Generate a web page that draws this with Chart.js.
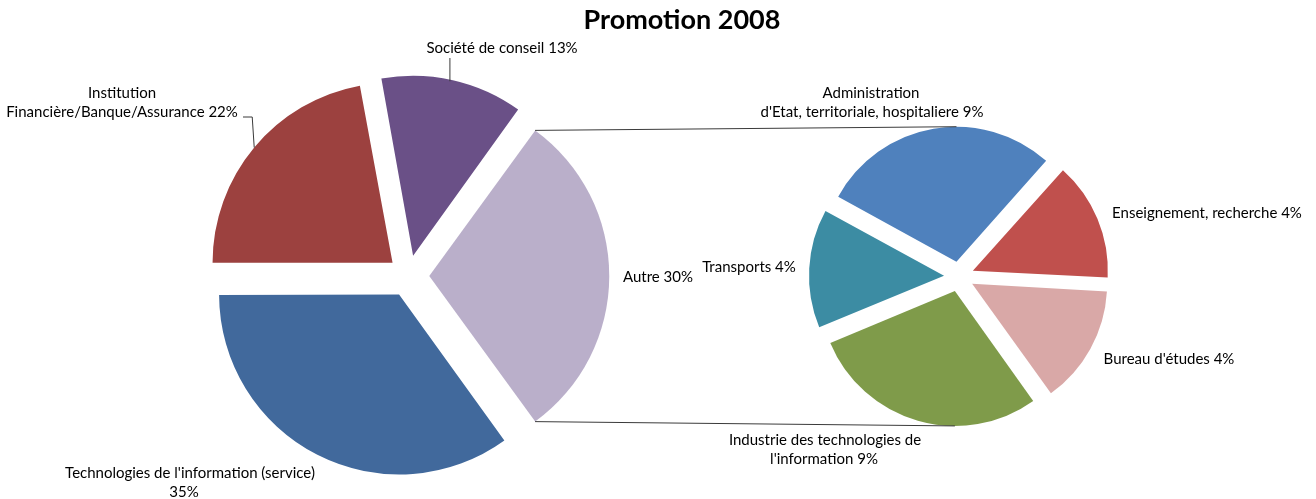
<!DOCTYPE html>
<html>
<head>
<meta charset="utf-8">
<script src="https://cdn.jsdelivr.net/npm/chart.js@4.4.1/dist/chart.umd.min.js"></script>
<style>
  body { margin: 0; background: #fff; }
  #wrap { position: relative; width: 1316px; height: 499px; }
  #wrap canvas { position: absolute; left: 0; top: 0; }
</style>
</head>
<body>
<div id="wrap">
  <canvas id="mainPie" width="1316" height="499"></canvas>
  <canvas id="subPie" width="1316" height="499"></canvas>
</div>
<script>
const title = "Promotion 2008";

// main pie (% of the whole promotion)
const mainCats = ["Technologies de l'information (service)\n", "Institution\nFinancière/Banque/Assurance", "Société de conseil", "Autre"];
const mainVals = [35, 22.1, 12.9, 30];
const mainColors = ["#41699c", "#9c413f", "#6a5087", "#baafca"];

// second pie = detail of "Autre"
const subCats = ["Administration\nd'Etat, territoriale, hospitaliere", "Enseignement, recherche", "Bureau d'études", "Industrie des technologies de\nl'information", "Transports"];
const subVals = [8.6, 4.3, 4.3, 8.6, 4.3];
const subColors = ["#4f81bd", "#c0504d", "#d9a8a7", "#7f9b4a", "#3c8ca3"];

// where the labels sit (x per line, y of first line)
const mainLabelPos = [
  { x: [190, 184], y: 473 },
  { x: [122, 122], y: 93, leader: p => [[243, 117], [p.x - 2, 117], [p.x, p.y]] },
  { x: [502], y: 48, leader: p => [[p.x - 3, 58], [p.x - 3, p.y + 1]] },
  { x: [658], y: 277 }
];
const subLabelPos = [
  { x: [871, 872], y: 93 },
  { x: [1207], y: 213 },
  { x: [1169], y: 359 },
  { x: [825, 824], y: 440 },
  { x: [749], y: 267 }
];

const FONT = "15px Lato";
const LINE_H = 19;
const INK = "#000";
const LINE_COL = "#3a3a3a";

function labelText(name, v) {
  const pct = Math.round(v) + "%";
  return ((name.endsWith("\n") ? name : name + " ") + pct).split("\n");
}

// Chart.js grows exploded arcs a little; keep the radius Excel uses
function radiusFix(arc) {
  const off = (arc.options.offset || 0) / 4;
  return off * (1 - Math.sin(Math.min(Math.PI, arc.circumference)));
}

const keepRadius = {
  id: "keepRadius",
  afterDatasetsUpdate(chart) {
    chart.getDatasetMeta(0).data.forEach(arc => {
      arc.outerRadius -= radiusFix(arc);
    });
  }
};

function edgePoint(arc, angle) {
  const off = (arc.options.offset || 0) / 4;
  const mid = (arc.startAngle + arc.endAngle) / 2;
  const r = arc.outerRadius + radiusFix(arc);
  const cx = arc.x + Math.cos(mid) * off;
  const cy = arc.y + Math.sin(mid) * off;
  return { x: cx + Math.cos(angle) * r, y: cy + Math.sin(angle) * r };
}

function inArc(a, s, e) {
  let t = a;
  while (t < s) t += 2 * Math.PI;
  while (t - 2 * Math.PI >= s) t -= 2 * Math.PI;
  return t <= e;
}

function labelPlugin(cats, vals, pos, extra) {
  return {
    id: "labels",
    afterDatasetsDraw(chart) {
      const ctx = chart.ctx;
      const arcs = chart.getDatasetMeta(0).data;
      ctx.save();
      ctx.strokeStyle = LINE_COL;
      ctx.lineWidth = 1;
      ctx.font = FONT;
      ctx.fillStyle = INK;
      ctx.textAlign = "center";
      ctx.textBaseline = "middle";
      cats.forEach((name, i) => {
        const p = pos[i];
        const lines = labelText(name, vals[i]);
        lines.forEach((ln, j) => {
          ctx.fillText(ln, p.x[j] !== undefined ? p.x[j] : p.x[0], p.y + j * LINE_H);
        });
        if (p.leader) {
          const arc = arcs[i];
          const pt = edgePoint(arc, (arc.startAngle + arc.endAngle) / 2);
          const path = p.leader(pt);
          ctx.beginPath();
          path.forEach((q, k) => k ? ctx.lineTo(q[0], q[1]) : ctx.moveTo(q[0], q[1]));
          ctx.stroke();
        }
      });
      ctx.restore();
      if (extra) extra(chart);
    }
  };
}

const mainChart = new Chart(document.getElementById("mainPie"), {
  type: "pie",
  data: {
    labels: mainCats,
    datasets: [{
      data: mainVals,
      backgroundColor: mainColors,
      borderWidth: 0,
      offset: 83
    }]
  },
  options: {
    responsive: false,
    animation: false,
    events: [],
    radius: 180,
    rotation: 144,
    layout: { padding: { left: 0, right: 499, top: 53, bottom: 0 } },
    plugins: { legend: { display: false }, tooltip: { enabled: false } }
  },
  plugins: [keepRadius, labelPlugin(mainCats, mainVals, mainLabelPos, chart => {
    const ctx = chart.ctx;
    ctx.save();
    ctx.font = "bold 27px Lato";
    ctx.fillStyle = INK;
    ctx.textAlign = "center";
    ctx.textBaseline = "middle";
    ctx.fillText(title, 682, 20);
    ctx.restore();
  })]
});

// series lines from "Autre" to the second pie
function drawConnectors(chart) {
  const autre = mainChart.getDatasetMeta(0).data[mainCats.indexOf("Autre")];
  const a1 = edgePoint(autre, autre.startAngle);
  const a2 = edgePoint(autre, autre.endAngle);
  const arcs = chart.getDatasetMeta(0).data;
  const topArc = arcs.find(a => inArc(-Math.PI / 2, a.startAngle, a.endAngle));
  const botArc = arcs.find(a => inArc(Math.PI / 2, a.startAngle, a.endAngle));
  const b1 = edgePoint(topArc, -Math.PI / 2);
  const b2 = edgePoint(botArc, Math.PI / 2);
  const ctx = chart.ctx;
  ctx.save();
  ctx.strokeStyle = LINE_COL;
  ctx.lineWidth = 1;
  ctx.beginPath();
  ctx.moveTo(a1.x, a1.y);
  ctx.lineTo(b1.x, b1.y);
  ctx.moveTo(a2.x, a2.y);
  ctx.lineTo(b2.x, b2.y);
  ctx.stroke();
  ctx.restore();
}

const subChart = new Chart(document.getElementById("subPie"), {
  type: "pie",
  data: {
    labels: subCats,
    datasets: [{
      data: subVals,
      backgroundColor: subColors,
      borderWidth: 0,
      offset: 60
    }]
  },
  options: {
    responsive: false,
    animation: false,
    events: [],
    radius: 135,
    rotation: -61.2,
    layout: { padding: { left: 602, right: 0, top: 54, bottom: 0 } },
    plugins: { legend: { display: false }, tooltip: { enabled: false } }
  },
  plugins: [keepRadius, labelPlugin(subCats, subVals, subLabelPos, drawConnectors)]
});
</script>
</body>
</html>
